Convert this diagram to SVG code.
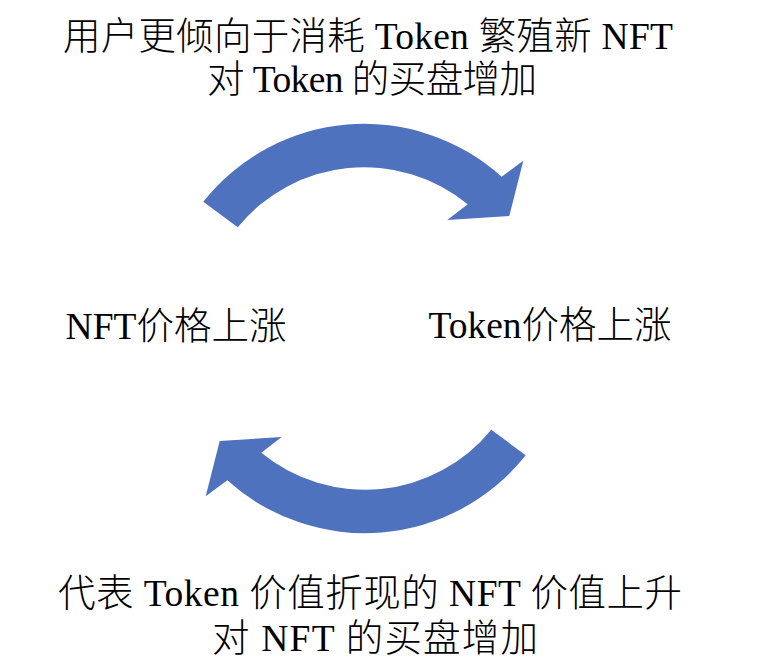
<svg xmlns="http://www.w3.org/2000/svg" xmlns:xlink="http://www.w3.org/1999/xlink" width="765" height="667" viewBox="0 0 765 667">
  <style>
    .t { font-family: "Liberation Serif", "Noto Sans CJK SC", serif; font-size: 37.5px; font-weight: 300; fill: #000; text-anchor: middle; }
    .arrow { fill: #4f72be; }
  </style>
  <defs>
    <path id="curved-arrow" class="arrow" d="M 203.3,201.7 A 205.3 205.3 0 0 1 501.7,176.7 L 523.3,160.7 L 509.3,216 L 447.3,220 L 467.7,204.3 A 163 163 0 0 0 237.7,227.3 Z"/>
  </defs>
  <rect x="0" y="0" width="765" height="667" fill="#ffffff"/>

  <g id="connectors">
    <g id="edge-nft-to-token">
      <use xlink:href="#curved-arrow" href="#curved-arrow"/>
      <text class="t" x="368" y="49" textLength="610" lengthAdjust="spacing">用户更倾向于消耗 Token 繁殖新 NFT</text>
      <text class="t" x="372" y="92" textLength="330" lengthAdjust="spacing">对 Token 的买盘增加</text>
    </g>
    <g id="edge-token-to-nft">
      <use xlink:href="#curved-arrow" href="#curved-arrow" transform="rotate(180 364.5 328.5)"/>
      <text class="t" x="370" y="606" textLength="624" lengthAdjust="spacing">代表 Token 价值折现的 NFT 价值上升</text>
      <text class="t" x="375" y="651" textLength="326" lengthAdjust="spacing">对 NFT 的买盘增加</text>
    </g>
  </g>

  <g id="node-nft">
    <text class="t" x="176" y="339">NFT价格上涨</text>
  </g>
  <g id="node-token">
    <text class="t" x="550" y="338">Token价格上涨</text>
  </g>
</svg>
